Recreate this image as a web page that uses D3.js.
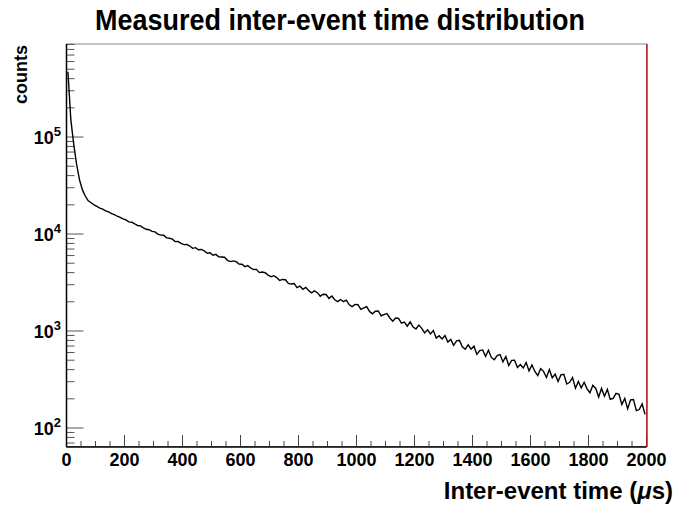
<!DOCTYPE html>
<html>
<head>
<meta charset="utf-8">
<script src="https://cdn.jsdelivr.net/npm/d3@7"></script>
<style>
  html, body { margin: 0; padding: 0; background: #fff; }
  svg { display: block; font-family: "Liberation Sans", Arial, Helvetica, sans-serif; }
</style>
</head>
<body>
<svg id="chart" width="679" height="505"></svg>
<script>
// ---- data (counts per 10 µs bin) ----
const binStart = 0;      // µs
const binWidth = 10;     // µs
const counts = [
  470000, 150000, 84000, 52000, 36000, 28500, 24500, 22000, 21000, 20000,
  19250, 18500, 18050, 17350, 16900, 16250, 15850, 15250, 14850, 14300,
  13963, 13355, 13229, 12756, 12249, 12134, 11583, 11190, 11063, 10656,
  10509, 9968, 9743, 9712, 9121, 9050, 8845, 8346, 8364, 8013,
  7767, 7811, 7513, 7116, 7231, 6885, 6925, 6694, 6341, 6411,
  6042, 6168, 5815, 5791, 5765, 5354, 5200, 5283, 5183, 4910,
  4884, 4615, 4724, 4466, 4306, 4321, 4001, 4057, 3990, 3772,
  3636, 3721, 3553, 3322, 3402, 3377, 3099, 3048, 3088, 2802,
  2902, 2694, 2819, 2620, 2479, 2596, 2485, 2281, 2391, 2380,
  2169, 2297, 2098, 2011, 2112, 2006, 2081, 1863, 1786, 1877,
  1871, 1670, 1735, 1780, 1592, 1507, 1598, 1608, 1436, 1477,
  1513, 1363, 1261, 1361, 1352, 1206, 1236, 1121, 1244, 1100,
  1050, 1150, 1066, 956, 1029, 933, 1011, 847, 895, 828,
  898, 768, 820, 713, 793, 801, 687, 648, 720, 649,
  698, 574, 628, 638, 548, 633, 534, 506, 558, 572,
  482, 546, 441, 498, 501, 420, 451, 415, 474, 388,
  448, 383, 347, 409, 384, 332, 400, 329, 359, 302,
  353, 358, 284, 296, 331, 257, 302, 259, 296, 253,
  231, 276, 256, 209, 256, 213, 250, 197, 202, 228,
  223, 175, 202, 158, 195, 197, 151, 155, 177, 138
];
const xMajorTicks = [0, 200, 400, 600, 800, 1000, 1200, 1400, 1600, 1800, 2000];
const xMinorStep = 50;
const yDecades = [100, 1000, 10000, 100000];
const yDecadeExp = ["2", "3", "4", "5"];
const xDomain = [0, 2000];
const yDomain = [63.7, 910000];
const titleText = "Measured inter-event time distribution";
const xTitleMain = "Inter-event time (";
const xTitleMu = "\u03bc";
const xTitleEnd = "s)";
const yTitleText = "counts";

// ---- layout ----
const svg = d3.select("#chart");
const L = 66.5, R = 646.5, T = 44, B = 447;

const x = d3.scaleLinear().domain(xDomain).range([L, R]);
const y = d3.scaleLog().domain(yDomain).range([B, T]);

// frame
svg.append("rect").attr("x", L).attr("y", T).attr("width", R - L).attr("height", B - T)
  .attr("fill", "none").attr("stroke", "#888").attr("stroke-width", 1);

// x ticks
const xMinor = d3.range(xDomain[0], xDomain[1] + 1, xMinorStep).filter(v => !xMajorTicks.includes(v));
const gx = svg.append("g");
gx.selectAll("line.minor").data(xMinor).join("line")
  .attr("x1", d => x(d)).attr("x2", d => x(d)).attr("y1", B).attr("y2", B - 6)
  .attr("stroke", "#444").attr("stroke-width", 1);
gx.selectAll("line.major").data(xMajorTicks).join("line")
  .attr("x1", d => x(d)).attr("x2", d => x(d)).attr("y1", B).attr("y2", B - 12)
  .attr("stroke", "#444").attr("stroke-width", 1);
gx.selectAll("text").data(xMajorTicks).join("text")
  .attr("x", d => x(d)).attr("y", 466).attr("text-anchor", "middle")
  .attr("font-size", 18).attr("font-weight", "bold").attr("fill", "#000")
  .text(d => d);

// y ticks
const yMinor = [];
const lo = Math.floor(Math.log10(yDomain[0])), hi = Math.ceil(Math.log10(yDomain[1]));
for (let e = lo; e < hi; e++) {
  for (let m = 2; m <= 9; m++) {
    const v = m * Math.pow(10, e);
    if (v >= yDomain[0] && v <= yDomain[1]) yMinor.push(v);
  }
}
const gy = svg.append("g");
gy.selectAll("line.minor").data(yMinor).join("line")
  .attr("x1", L).attr("x2", L + 8).attr("y1", d => y(d)).attr("y2", d => y(d))
  .attr("stroke", "#555").attr("stroke-width", 1);
gy.selectAll("line.major").data(yDecades).join("line")
  .attr("x1", L).attr("x2", L + 17).attr("y1", d => y(d)).attr("y2", d => y(d))
  .attr("stroke", "#555").attr("stroke-width", 1);
const yl = gy.selectAll("text").data(yDecades).join("text")
  .attr("x", 61).attr("y", d => y(d) + 7).attr("text-anchor", "end")
  .attr("font-weight", "bold").attr("fill", "#000");
yl.append("tspan").attr("font-size", 18).text("10");
yl.append("tspan").attr("font-size", 13).attr("dy", -8).text((d, i) => yDecadeExp[i]);

// axis lines
svg.append("line").attr("x1", L).attr("x2", L).attr("y1", T).attr("y2", B)
  .attr("stroke", "#000").attr("stroke-width", 1.5);
svg.append("line").attr("x1", L).attr("x2", R).attr("y1", B - 0.5).attr("y2", B - 0.5)
  .attr("stroke", "#222").attr("stroke-width", 1);
svg.append("line").attr("x1", L).attr("x2", R).attr("y1", B + 0.5).attr("y2", B + 0.5)
  .attr("stroke", "#d00").attr("stroke-width", 1.2);
svg.append("line").attr("x1", R + 0.5).attr("x2", R + 0.5).attr("y1", T).attr("y2", B)
  .attr("stroke", "#d00").attr("stroke-width", 1.4);

// histogram line through bin centres
const pts = counts.map((c, i) => [x(binStart + (i + 0.5) * binWidth), y(c)]);
svg.append("path").attr("d", d3.line()(pts))
  .attr("fill", "none").attr("stroke", "#000").attr("stroke-width", 1.4)
  .attr("stroke-linejoin", "miter");

// titles
svg.append("text").attr("transform", "translate(340,30) scale(0.93,1)").attr("text-anchor", "middle")
  .attr("font-size", 29).attr("font-weight", "bold").attr("fill", "#000").text(titleText);

svg.append("text").attr("transform", "translate(27,45) rotate(-90)")
  .attr("text-anchor", "end").attr("font-size", 18).attr("font-weight", "bold")
  .attr("fill", "#000").text(yTitleText);

const xt = svg.append("text").attr("x", 673).attr("y", 499).attr("text-anchor", "end")
  .attr("font-size", 24).attr("font-weight", "bold").attr("fill", "#000");
xt.append("tspan").text(xTitleMain);
xt.append("tspan").attr("font-style", "italic").text(xTitleMu);
xt.append("tspan").text(xTitleEnd);
</script>
</body>
</html>
